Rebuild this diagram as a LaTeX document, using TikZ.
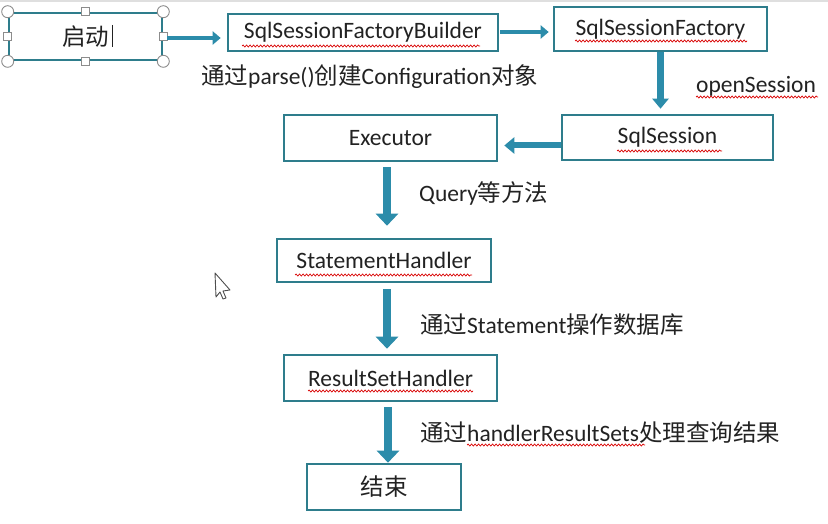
\documentclass[tikz,border=0pt]{standalone}
\usepackage{fontspec}
\setmainfont{Carlito}
\newfontfamily\cjk{Noto Sans CJK SC}
\usetikzlibrary{arrows.meta,decorations.pathmorphing}

\definecolor{boxcol}{HTML}{2E7D8C}
\definecolor{flowcol}{HTML}{2C8CAA}
\definecolor{txtcol}{HTML}{222222}
\definecolor{handlecol}{HTML}{8C8C8C}

\begin{document}
\begin{tikzpicture}[x=1pt,y=-1pt,
  box/.style={draw=boxcol,line width=2.6pt,fill=white,inner sep=0pt,font=\fontsize{23.5}{27}\selectfont,text=txtcol},
  flow/.style={draw=flowcol,line width=8pt,-{Triangle[length=12pt,width=22pt]}},
  link/.style={draw=flowcol,line width=4pt,-{Triangle[length=8pt,width=13pt]}},
  lbl/.style={anchor=west,inner sep=0pt,font=\fontsize{23.5}{27}\selectfont,text=txtcol},
  squig/.style={draw=red!85!black,line width=0.7pt,decorate,decoration={snake,amplitude=1pt,segment length=3.5pt}},
  handle/.style={draw=handlecol,fill=white,line width=0.9pt}
]
\useasboundingbox (0,0) rectangle (828,524);
\draw[gray!25,line width=1.5pt] (0,1) -- (828,1);

%Drawing the boxes
\node[box,minimum width=153pt,minimum height=47pt] (start) at (85.5,36.5) {\cjk 启动};
\node[box,minimum width=270pt,minimum height=37pt] (builder) at (363,32.5) {SqlSessionFactoryBuilder};
\node[box,minimum width=213pt,minimum height=44pt] (factory) at (660.5,29) {SqlSessionFactory};
\node[box,minimum width=211pt,minimum height=45pt] (session) at (667.5,137.5) {SqlSession};
\node[box,minimum width=213pt,minimum height=46pt] (executor) at (390.5,138) {Executor};
\node[box,minimum width=214pt,minimum height=43pt] (stmt) at (384,260.5) {StatementHandler};
\node[box,minimum width=213pt,minimum height=46pt] (result) at (390.5,378) {ResultSetHandler};
\node[box,minimum width=154pt,minimum height=46pt] (end) at (384,487) {\cjk 结束};

%selection frame of the start box
\draw[white,line width=1pt,dash pattern=on 4pt off 7pt] ([yshift=-1pt]start.south west) -- ([yshift=-1pt]start.south east);
\draw[txtcol,line width=1pt] (112,25) -- (112,47);
\foreach \c in {north west,north east,south west,south east}
  \draw[handle] (start.\c) circle (6pt);
\foreach \c in {north,south,east,west}
  \draw[handle] ([shift={(-4pt,-4pt)}]start.\c) rectangle ++(8pt,8pt);

%Drawing the arrows
\draw[link,shorten >=6pt] ([yshift=-1.5pt,xshift=4pt]start.east) -- ([yshift=-1.5pt]start.east -| builder.west);
\draw[link,shorten <=1pt,shorten >=4pt] ([yshift=0.5pt]builder.east) -- ([yshift=0.5pt]builder.east -| factory.west);
\draw[flow,line width=7pt,-{Triangle[length=10pt,width=16pt]},shorten >=5pt] (factory.south) -- (factory.south |- session.north);
\draw[flow,line width=6pt,-{Triangle[length=10pt,width=16pt]},shorten >=6pt] ([yshift=-8pt]session.west) -- ([yshift=-8pt]session.west -| executor.east);
\draw[flow,shorten <=5pt,shorten >=12pt] ([xshift=-3.5pt]executor.south) -- ([xshift=-3.5pt]executor.south |- stmt.north);
\draw[flow,shorten <=6pt,shorten >=5pt] ([xshift=3pt]stmt.south) -- ([xshift=3pt]stmt.south |- result.north);
\draw[flow,shorten <=5pt] ([xshift=4pt]end.north |- result.south) -- ([xshift=4pt]end.north);

%Labeling the arrows
\node[lbl] (parse) at (201,77) {{\cjk 通过}parse(){\cjk 创建}Configuration{\cjk 对象}};
\node[lbl] (open) at (696,86) {openSession};
\node[lbl] (query) at (419,193) {Query{\cjk 等方法}};
\node[lbl] (op) at (420,325) {{\cjk 通过}Statement{\cjk 操作数据库}};
\node[lbl] (deal) at (420,433) {{\cjk 通过}handlerResultSets{\cjk 处理查询结果}};

%spelling marks
\draw[squig] (242,46) -- (480,46);
\draw[squig] (575,41) -- (747,41);
\draw[squig] (696,97) -- (818,97);
\draw[squig] (617,151) -- (722,151);
\draw[squig] (295,275) -- (472,275);
\draw[squig] (308,391) -- (473,391);
\draw[squig] (467,445) -- (645,445);

%mouse pointer
\draw[txtcol!80,fill=white,line width=0.9pt,line join=round] (215,273) -- (216,297) -- (220,292) -- (223,299) -- (226,298) -- (223,291) -- (230,290) -- cycle;
\end{tikzpicture}
\end{document}
